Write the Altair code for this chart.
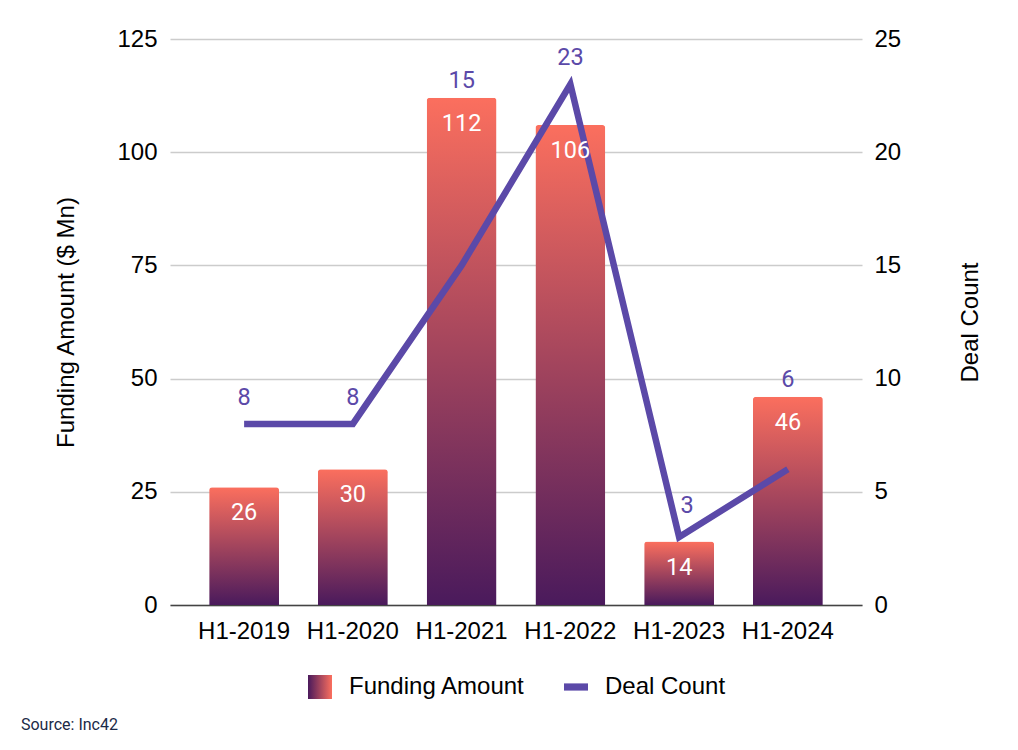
import altair as alt
import pandas as pd

periods = ["H1-2019", "H1-2020", "H1-2021", "H1-2022", "H1-2023", "H1-2024"]
funding = [26, 30, 112, 106, 14, 46]
deals = [8, 8, 15, 23, 3, 6]
left_ticks = [0, 25, 50, 75, 100, 125]
right_ticks = [0, 5, 10, 15, 20, 25]
series_names = ["Funding Amount", "Deal Count"]

df = pd.DataFrame({"period": periods, "funding": funding, "deals": deals})

PURPLE = "#5b49a8"
TOP = "#fb6f5e"
BOTTOM = "#4a1a5c"
AXIS_FONT = "Liberation Sans"
LABEL_FONT = "Roboto"
FS = 24
LFS = 23.5

x = alt.X(
    "period:N", sort=periods, title=None,
    scale=alt.Scale(paddingInner=0.357, paddingOuter=0.36),
    axis=alt.Axis(labelAngle=0, labelFont=AXIS_FONT, labelFontSize=FS, labelColor="#000000",
                  ticks=False, labelPadding=14, domainColor="#444444", domainWidth=1.5, grid=False),
)

yL = alt.Scale(domain=[0, 125], nice=False)
yR = alt.Scale(domain=[0, 25], nice=False)

base = alt.Chart(df)

bars = base.mark_bar(
    cornerRadiusTopLeft=3, cornerRadiusTopRight=3,
    color=alt.Gradient(
        gradient="linear",
        stops=[alt.GradientStop(color=TOP, offset=0), alt.GradientStop(color=BOTTOM, offset=1)],
        x1=0, x2=0, y1=0, y2=1,
    ),
).encode(
    x=x,
    y=alt.Y("funding:Q", scale=yL, title="Funding Amount ($ Mn)",
            axis=alt.Axis(orient="left", values=left_ticks, grid=True, gridColor="#cccccc", gridWidth=1.5,
                          domain=False, ticks=False, labelPadding=13, labelFont=AXIS_FONT,
                          labelFontSize=FS, labelColor="#000000", titleFont=AXIS_FONT,
                          titleFontSize=FS, titleFontWeight="normal", titleColor="#000000",
                          titlePadding=38)),
)

legend_fill = ("datum.value === 'Funding Amount' ? {gradient: 'linear', x1: 0, y1: 0, x2: 1, y2: 0, "
               "stops: [{offset: 0, color: '" + BOTTOM + "'}, {offset: 1, color: '" + TOP + "'}]} : '"
               + PURPLE + "'")
legend_shape = "datum.value === 'Funding Amount' ? 'square' : 'M-1,-0.3H1V0.3H-1Z'"

legend = alt.Legend(
    orient="none", legendX=138, legendY=636, title=None, direction="horizontal",
    labelFont=AXIS_FONT, labelFontSize=FS, labelColor="#000000", labelLimit=400,
    symbolSize=576, columnPadding=38, labelOffset=17,
    symbolFillColor=alt.ExprRef(legend_fill),
    symbolType=alt.ExprRef(legend_shape),
    symbolStrokeWidth=0, symbolOpacity=1,
)

line = base.transform_calculate(series="'Deal Count'").mark_line(strokeWidth=6.5).encode(
    x=x,
    y=alt.Y("deals:Q", scale=yR, title="Deal Count",
            axis=alt.Axis(orient="right", values=right_ticks, grid=False, domain=False, ticks=False,
                          labelPadding=12, labelFont=AXIS_FONT, labelFontSize=FS, labelColor="#000000",
                          titleFont=AXIS_FONT, titleFontSize=FS, titleFontWeight="normal",
                          titleColor="#000000", titleAngle=270, titlePadding=82)),
    color=alt.Color("series:N", scale=alt.Scale(domain=series_names, range=[TOP, PURPLE]), legend=legend),
)

bar_text = base.mark_text(color="white", font=LABEL_FONT, fontSize=LFS, baseline="middle", dy=26).encode(
    x=x, y=alt.Y("funding:Q", scale=yL, axis=None), text="funding:Q"
)

min_deals = min(deals)

lab_line = base.transform_filter(
    f"datum.deals * 5 >= datum.funding && datum.deals > {min_deals}"
).mark_text(
    color=PURPLE, font=LABEL_FONT, fontSize=LFS, baseline="middle", dy=-26
).encode(x=x, y=alt.Y("deals:Q", scale=yR, axis=None), text="deals:Q")

lab_valley = base.transform_filter(
    f"datum.deals * 5 >= datum.funding && datum.deals == {min_deals}"
).mark_text(
    color=PURPLE, font=LABEL_FONT, fontSize=LFS, baseline="middle", dy=-31, dx=8
).encode(x=x, y=alt.Y("deals:Q", scale=yR, axis=None), text="deals:Q")

lab_bar = base.transform_filter("datum.deals * 5 < datum.funding").mark_text(
    color=PURPLE, font=LABEL_FONT, fontSize=LFS, baseline="middle", dy=-17
).encode(x=x, y=alt.Y("funding:Q", scale=yL, axis=None), text="deals:Q")

chart = alt.layer(bars, line, bar_text, lab_line, lab_valley, lab_bar).resolve_scale(
    y="independent"
).properties(
    width=692, height=566,
    padding={"left": 12, "top": 19, "right": 5, "bottom": 5},
    title=alt.TitleParams("Source: Inc42", orient="bottom", anchor="start", fontSize=16, font=LABEL_FONT,
                          fontWeight="normal", color="#1b2a47", offset=18, dx=-34, frame="bounds"),
).configure_view(stroke=None)

chart.save("out.html", embed_options={"renderer": "svg", "actions": False})
